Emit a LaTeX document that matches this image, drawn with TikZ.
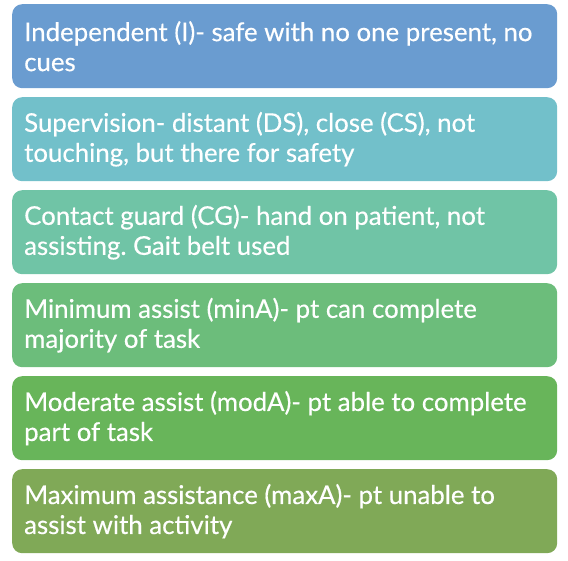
\documentclass[tikz,border=0pt]{standalone}
\usepackage{fontspec}
\setmainfont{Lato}[FakeBold=0.4]
\definecolor{c1}{RGB}{106,156,208}
\definecolor{c2}{RGB}{114,192,202}
\definecolor{c3}{RGB}{112,196,166}
\definecolor{c4}{RGB}{108,189,123}
\definecolor{c5}{RGB}{104,181,90}
\definecolor{c6}{RGB}{128,169,87}
\begin{document}
\frenchspacing
\begin{tikzpicture}[x=1pt,y=1pt,
  box/.style={draw=none, rounded corners=10pt, minimum width=545pt, minimum height=84pt,
    inner sep=0pt, anchor=north west},
  lbl/.style={inner sep=0pt, align=left, text=white, anchor=west,
    font=\fontsize{25.8}{30}\selectfont}]
\useasboundingbox (0,0) rectangle (568,560);
\node[box, fill=c1] (b1) at (12,556) {};
\node[box, fill=c2] (b2) at (12,463) {};
\node[box, fill=c3] (b3) at (12,370) {};
\node[box, fill=c4] (b4) at (12,277) {};
\node[box, fill=c5] (b5) at (12,184) {};
\node[box, fill=c6] (b6) at (12,91) {};
\node[lbl] (t1) at ([xshift=12pt]b1.west) {Independent (I)- safe with no one present, no\\cues};
\node[lbl] (t2) at ([xshift=12pt]b2.west) {Supervision- distant (DS), close (CS), not\\touching, but there for safety};
\node[lbl] (t3) at ([xshift=12pt]b3.west) {Contact guard (CG)- hand on patient, not\\assisting. Gait belt used};
\node[lbl] (t4) at ([xshift=12pt]b4.west) {Minimum assist (minA)- pt can complete\\majority of task};
\node[lbl] (t5) at ([xshift=12pt]b5.west) {Moderate assist (modA)- pt able to complete\\part of task};
\node[lbl] (t6) at ([xshift=12pt]b6.west) {Maximum assistance (maxA)- pt unable to\\assist with activity};
\end{tikzpicture}
\end{document}
